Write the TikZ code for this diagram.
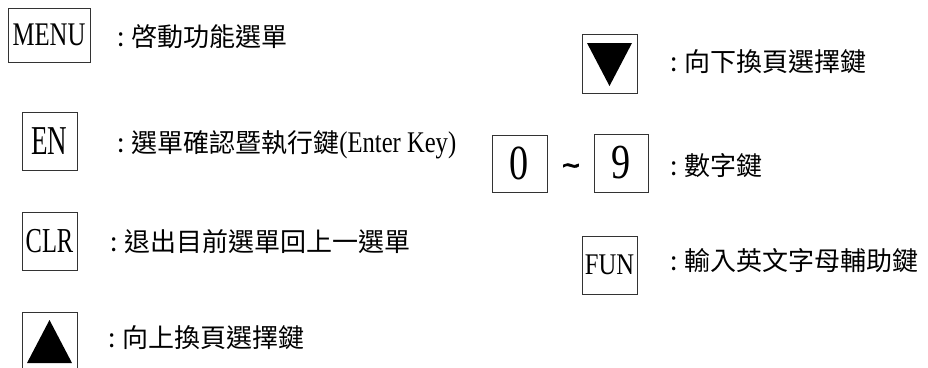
\documentclass[tikz,border=0pt]{standalone}
\usepackage{fontspec}
\usepackage{graphicx}
\newfontfamily\cjkfont{Noto Sans CJK TC}
\newfontfamily\latfont{Liberation Serif}
\newfontfamily\tilfont[FakeBold=2.5]{Liberation Sans}
\newcommand{\keytxt}[3]{\scalebox{#1}[1]{\fontsize{#2}{#2}\selectfont\latfont #3}}
\newcommand{\lbl}[1]{\fontsize{26}{26}\selectfont\cjkfont :\hspace{7pt}#1}
\tikzset{
  keybox/.style={draw=black!80, line width=0.8pt, inner sep=0pt, minimum width=55pt, minimum height=58pt},
  lbltext/.style={anchor=base west, inner sep=0pt},
}
\begin{document}
\begin{tikzpicture}[x=1pt,y=-1pt]
\useasboundingbox (0,0) rectangle (928,367);
\clip (0,0) rectangle (928,367);
% keys, left column
\node[keybox, minimum width=82pt, minimum height=54pt] (menu) at (49,35) {\keytxt{0.75}{33}{MENU}};
\node[keybox] (en) at (49.5,141.5) {\keytxt{0.66}{41}{EN}};
\node[keybox] (clr) at (49.5,241) {\keytxt{0.7}{35}{CLR}};
\node[keybox, minimum height=70pt] (up) at (49.5,347) {};
\fill (27,363) -- (49.5,320) -- (72,363) -- cycle;
% keys, right column
\node[keybox, minimum height=59pt] (down) at (609.5,63.5) {};
\fill (587,43) -- (632,43) -- (609.5,86) -- cycle;
\node[keybox, minimum height=57pt] (k0) at (519.5,163.5) {\keytxt{0.78}{49}{0}};
\node[keybox, minimum width=54pt] (k9) at (621,163) {\keytxt{0.78}{49}{9}};
\node[anchor=base, inner sep=0pt] (tilde) at (571,175.5) {\fontsize{30}{30}\selectfont\tilfont\textasciitilde};
\node[keybox] (fun) at (609.5,265) {\keytxt{0.82}{30}{FUN}};
% labels
\node[lbltext] (lmenu) at (117,46) {\lbl{啓動功能選單}};
\node[lbltext] (len) at (117,152) {\lbl{選單確認暨執行鍵\keytxt{0.82}{30}{(Enter Key)}}};
\node[lbltext] (lclr) at (110,251) {\lbl{退出目前選單回上一選單}};
\node[lbltext] (lup) at (108,347) {\lbl{向上換頁選擇鍵}};
\node[lbltext] (ldown) at (670,71) {\lbl{向下換頁選擇鍵}};
\node[lbltext] (lnum) at (670,175) {\lbl{數字鍵}};
\node[lbltext] (lfun) at (670,270) {\lbl{輸入英文字母輔助鍵}};
\end{tikzpicture}
\end{document}
